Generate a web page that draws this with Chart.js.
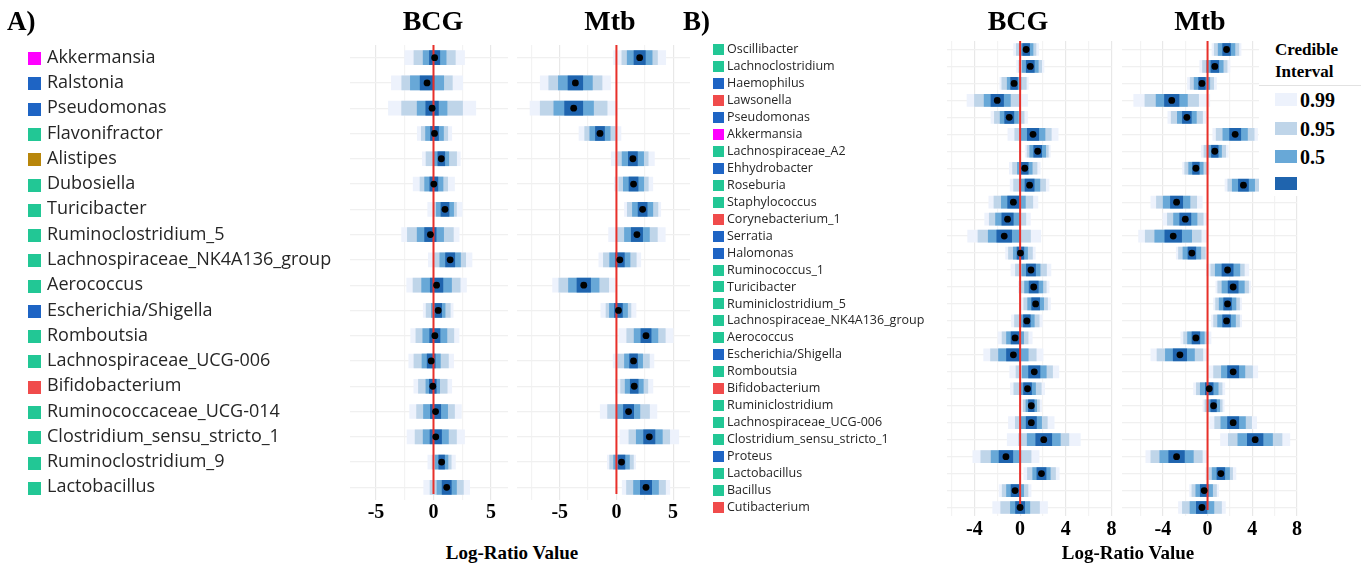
<!DOCTYPE html>
<html>
<head>
<meta charset="utf-8">
<script src="https://cdn.jsdelivr.net/npm/chart.js@4.4.1/dist/chart.umd.min.js"></script>
<style>
    body { margin: 0; background: #fff; }
    #fig { position: relative; width: 1361px; height: 565px; overflow: hidden; font-family: "Liberation Serif", "Times New Roman", serif; }
    #fig canvas { position: absolute; top: 0; }
    .txt { position: absolute; font-weight: bold; line-height: 1; white-space: nowrap; color: #000; }
    .mid { transform: translateX(-50%); }
    #ciLegend { position: absolute; left: 1259px; top: 32px; width: 102px; height: 164px; background: #fff; }
    #ciLegend .rule { position: absolute; left: 0; top: 53px; width: 102px; height: 1px; background: #e2e2e2; }
    #ciLegend .sw { position: absolute; left: 16px; width: 22px; height: 13px; }
</style>
</head>
<body>
<div id="fig">
    <canvas id="aBcg" width="512" height="540" style="left:0px"></canvas>
    <canvas id="aMtb" width="190" height="540" style="left:512px"></canvas>
    <canvas id="bBcg" width="420" height="556" style="left:700px"></canvas>
    <canvas id="bMtb" width="200" height="556" style="left:1116px"></canvas>

    <div class="txt" style="left:7px; top:8px; font-size:27px;">A)</div>
    <div class="txt" style="left:683px; top:8px; font-size:27px;">B)</div>
    <div class="txt mid" style="left:433px; top:7px; font-size:28px;">BCG</div>
    <div class="txt mid" style="left:610px; top:7px; font-size:28px;">Mtb</div>
    <div class="txt mid" style="left:1018px; top:7px; font-size:28px;">BCG</div>
    <div class="txt mid" style="left:1200px; top:7px; font-size:28px;">Mtb</div>
    <div class="txt mid" style="left:512px; top:543px; font-size:19px;">Log-Ratio Value</div>
    <div class="txt mid" style="left:1128px; top:543px; font-size:19px;">Log-Ratio Value</div>

    <div id="ciLegend"></div>
</div>

<script>
// ---- data ----
const phylumColors = {
    Firmicutes: '#22c795',
    Proteobacteria: '#1e64c4',
    Verrucomicrobia: '#ff00ff',
    Bacteroidetes: '#b8860b',
    Actinobacteria: '#f04b4b'
};

const ciLabels = ['0.99', '0.95', '0.5', ''];
const ciColors = ['#edf2fc', '#bfd5e9', '#68a8d7', '#1f64ae'];

const ticksA = [-5, 0, 5];
const ticksB = [-4, 0, 4, 8];

// panel A
const generaA = ['Akkermansia', 'Ralstonia', 'Pseudomonas', 'Flavonifractor', 'Alistipes', 'Dubosiella',
    'Turicibacter', 'Ruminoclostridium_5', 'Lachnospiraceae_NK4A136_group', 'Aerococcus', 'Escherichia/Shigella',
    'Romboutsia', 'Lachnospiraceae_UCG-006', 'Bifidobacterium', 'Ruminococcaceae_UCG-014',
    'Clostridium_sensu_stricto_1', 'Ruminoclostridium_9', 'Lactobacillus'];
const phylaA = ['Verrucomicrobia', 'Proteobacteria', 'Proteobacteria', 'Firmicutes', 'Bacteroidetes', 'Firmicutes',
    'Firmicutes', 'Firmicutes', 'Firmicutes', 'Firmicutes', 'Proteobacteria',
    'Firmicutes', 'Firmicutes', 'Actinobacteria', 'Firmicutes',
    'Firmicutes', 'Firmicutes', 'Firmicutes'];

const bcgA_median = [0.1, -0.56, -0.12, 0.09, 0.68, 0.03, 1.0, -0.27, 1.45, 0.27, 0.41, 0.12, -0.2, -0.06, 0.18, 0.2, 0.71, 1.15];
const bcgA_core = [0.45, 0.6, 0.55, 0.35, 0.3, 0.35, 0.35, 0.5, 0.4, 0.55, 0.3, 0.45, 0.35, 0.3, 0.45, 0.5, 0.25, 0.4];
const bcgA_ci50 = [1.0, 1.45, 1.3, 0.78, 0.65, 0.8, 0.75, 1.15, 0.9, 1.3, 0.6, 1.05, 0.8, 0.6, 1.05, 1.1, 0.55, 0.85];
const bcgA_ci95 = [1.8, 2.2, 2.65, 1.15, 1.33, 1.2, 1.0, 2.0, 1.35, 2.05, 1.05, 1.65, 1.5, 1.25, 1.65, 1.8, 0.83, 1.45];
const bcgA_ci99 = [2.6, 3.1, 3.8, 1.5, 1.65, 1.8, 1.5, 2.5, 1.9, 2.6, 1.3, 2.1, 1.95, 1.65, 2.25, 2.5, 1.2, 2.0];

const mtbA_median = [2.05, -3.62, -3.77, -1.45, 1.45, 1.51, 2.31, 1.81, 0.3, -2.88, 0.18, 2.61, 1.51, 1.57, 1.07, 2.9, 0.45, 2.61];
const mtbA_core = [0.5, 0.65, 0.8, 0.4, 0.4, 0.4, 0.4, 0.5, 0.4, 0.6, 0.35, 0.45, 0.35, 0.35, 0.45, 0.5, 0.3, 0.5];
const mtbA_ci50 = [1.1, 1.5, 1.75, 0.9, 0.95, 0.9, 0.9, 1.1, 0.9, 1.35, 0.8, 1.05, 0.8, 0.8, 1.0, 1.15, 0.7, 1.1];
const mtbA_ci95 = [1.57, 2.35, 2.95, 1.35, 1.35, 1.3, 1.35, 1.8, 1.45, 2.2, 1.1, 1.7, 1.4, 1.2, 1.85, 1.8, 1.05, 1.72];
const mtbA_ci99 = [2.3, 3.1, 3.85, 1.85, 1.9, 1.7, 1.6, 2.5, 1.85, 2.75, 1.55, 2.4, 1.8, 1.65, 2.5, 2.6, 1.25, 2.1];

// panel B
const generaB = ['Oscillibacter', 'Lachnoclostridium', 'Haemophilus', 'Lawsonella', 'Pseudomonas', 'Akkermansia',
    'Lachnospiraceae_A2', 'Ehhydrobacter', 'Roseburia', 'Staphylococcus', 'Corynebacterium_1', 'Serratia',
    'Halomonas', 'Ruminococcus_1', 'Turicibacter', 'Ruminiclostridium_5', 'Lachnospiraceae_NK4A136_group',
    'Aerococcus', 'Escherichia/Shigella', 'Romboutsia', 'Bifidobacterium', 'Ruminiclostridium',
    'Lachnospiraceae_UCG-006', 'Clostridium_sensu_stricto_1', 'Proteus', 'Lactobacillus', 'Bacillus', 'Cutibacterium'];
const phylaB = ['Firmicutes', 'Firmicutes', 'Proteobacteria', 'Actinobacteria', 'Proteobacteria', 'Verrucomicrobia',
    'Firmicutes', 'Proteobacteria', 'Firmicutes', 'Firmicutes', 'Actinobacteria', 'Proteobacteria',
    'Proteobacteria', 'Firmicutes', 'Firmicutes', 'Firmicutes', 'Firmicutes',
    'Firmicutes', 'Proteobacteria', 'Firmicutes', 'Actinobacteria', 'Firmicutes',
    'Firmicutes', 'Firmicutes', 'Proteobacteria', 'Firmicutes', 'Firmicutes', 'Actinobacteria'];

const bcgB_median = [0.53, 0.89, -0.53, -2.0, -0.95, 1.13, 1.54, 0.41, 0.83, -0.59, -1.1, -1.39, 0.03, 0.95,
    1.19, 1.36, 0.59, -0.44, -0.59, 1.24, 0.65, 0.98, 0.98, 2.07, -1.24, 1.87, -0.44, 0.0];
const bcgB_core = [0.3, 0.35, 0.3, 0.55, 0.4, 0.5, 0.35, 0.3, 0.4, 0.5, 0.5, 0.65, 0.3, 0.4,
    0.4, 0.35, 0.3, 0.35, 0.6, 0.5, 0.35, 0.25, 0.45, 0.7, 0.6, 0.4, 0.35, 0.4];
const bcgB_ci50 = [0.6, 0.7, 0.6, 1.15, 0.8, 1.05, 0.7, 0.65, 0.9, 1.05, 1.05, 1.4, 0.62, 0.8,
    0.8, 0.7, 0.65, 0.75, 1.3, 1.05, 0.7, 0.47, 0.9, 1.45, 1.3, 0.77, 0.75, 0.85];
const bcgB_ci95 = [0.86, 1.0, 1.07, 2.0, 1.3, 1.6, 0.93, 1.07, 1.4, 1.7, 1.6, 2.3, 1.05, 1.36,
    1.1, 1.04, 1.08, 1.14, 2.0, 1.6, 1.2, 0.71, 1.4, 2.2, 2.2, 1.23, 1.13, 1.7];
const bcgB_ci99 = [1.1, 1.2, 1.25, 2.65, 1.6, 2.2, 1.1, 1.35, 1.7, 2.15, 2.0, 3.2, 1.3, 1.75,
    1.35, 1.3, 1.35, 1.5, 2.6, 2.15, 1.5, 0.9, 2.0, 3.2, 2.9, 1.55, 1.4, 2.4];

const mtbB_median = [1.7, 0.65, -0.5, -3.2, -1.85, 2.47, 0.65, -1.04, 3.21, -2.77, -1.99, -3.07, -1.4, 1.79,
    2.29, 1.79, 1.7, -1.04, -2.47, 2.29, 0.15, 0.54, 2.29, 4.26, -2.77, 1.19, -0.3, -0.5];
const mtbB_core = [0.35, 0.35, 0.3, 0.65, 0.4, 0.5, 0.3, 0.3, 0.45, 0.55, 0.5, 0.75, 0.35, 0.5,
    0.45, 0.35, 0.35, 0.35, 0.6, 0.5, 0.35, 0.25, 0.5, 0.7, 0.7, 0.35, 0.35, 0.5];
const mtbB_ci50 = [0.75, 0.75, 0.7, 1.4, 0.85, 1.1, 0.6, 0.65, 1.0, 1.2, 1.05, 1.65, 0.8, 1.1,
    1.0, 0.75, 0.8, 0.75, 1.3, 1.05, 0.8, 0.55, 1.1, 1.55, 1.5, 0.78, 0.75, 1.07];
const mtbB_ci95 = [1.1, 1.1, 1.05, 2.4, 1.4, 1.7, 0.97, 1.0, 1.4, 1.8, 1.6, 2.5, 1.2, 1.5,
    1.38, 1.07, 1.16, 1.1, 2.05, 1.75, 1.15, 0.77, 1.65, 2.4, 2.3, 1.05, 1.1, 1.75];
const mtbB_ci99 = [1.3, 1.35, 1.3, 3.4, 1.7, 2.0, 1.2, 1.2, 1.65, 2.3, 2.0, 3.1, 1.4, 1.9,
    1.55, 1.25, 1.35, 1.35, 2.6, 2.2, 1.4, 0.95, 2.1, 3.1, 2.75, 1.35, 1.3, 2.1];

// ---- plugins ----
// red reference line at 0, drawn above the bars but under the median dots
const zeroLine = {
    id: 'zeroLine',
    afterDatasetDraw(chart, args) {
        if (args.index !== 1) return;
        const { ctx, chartArea } = chart;
        const x = chart.scales.x.getPixelForValue(0);
        ctx.save();
        ctx.strokeStyle = '#e8302a';
        ctx.lineWidth = 2;
        ctx.beginPath();
        ctx.moveTo(x, chartArea.top);
        ctx.lineTo(x, chartArea.bottom - 6);
        ctx.stroke();
        ctx.restore();
    }
};

// coloured phylum squares in front of the genus labels
const phylumSquares = {
    id: 'phylumSquares',
    afterDraw(chart, args, opts) {
        if (!opts.phyla) return;
        const scale = chart.scales.y;
        const ctx = chart.ctx;
        ctx.save();
        scale.ticks.forEach((t, i) => {
            const y = scale.getPixelForTick(i);
            ctx.fillStyle = phylumColors[opts.phyla[i]];
            ctx.fillRect(opts.x, Math.round(y - opts.size / 2) + opts.dy, opts.size, opts.size);
        });
        ctx.restore();
    }
};

function buildPanel(id, cfg) {
    const ctx = document.getElementById(id).getContext('2d');
    const span = (w) => cfg.median.map((m, i) => [m - w[i], m + w[i]]);
    const bar = (label, w, color, order) => ({
        type: 'bar',
        label: label,
        data: span(w),
        backgroundColor: color,
        borderWidth: 0,
        barThickness: cfg.barThickness,
        grouped: false,
        order: order
    });
    const isMajor = (v) => cfg.ticks.some(t => Math.abs(t - v) < 1e-6);

    return new Chart(ctx, {
        type: 'bar',
        data: {
            labels: cfg.labels,
            datasets: [
                {
                    type: 'line',
                    label: 'median',
                    indexAxis: 'y',
                    data: cfg.median,
                    showLine: false,
                    pointRadius: 3.4,
                    pointBorderWidth: 0,
                    pointBackgroundColor: '#000',
                    order: 0
                },
                bar('core', cfg.core, ciColors[3], 1),
                bar('0.5', cfg.ci50, ciColors[2], 2),
                bar('0.95', cfg.ci95, ciColors[1], 3),
                bar('0.99', cfg.ci99, ciColors[0], 4)
            ]
        },
        options: {
            indexAxis: 'y',
            responsive: false,
            devicePixelRatio: 1,
            animation: false,
            events: [],
            layout: { padding: cfg.padding },
            plugins: {
                legend: { display: false },
                tooltip: { enabled: false },
                phylumSquares: cfg.squares || {}
            },
            scales: {
                x: {
                    type: 'linear',
                    min: cfg.min,
                    max: cfg.max,
                    border: { display: false },
                    grid: {
                        drawTicks: false,
                        lineWidth: 1.2,
                        color: (c) => (c.tick && isMajor(c.tick.value)) ? '#e8e8e8' : '#f3f3f3'
                    },
                    ticks: {
                        stepSize: cfg.step,
                        includeBounds: false,
                        autoSkip: false,
                        maxRotation: 0,
                        padding: cfg.tickPad,
                        color: '#000',
                        font: { family: 'Liberation Serif', size: 20, weight: 'bold' },
                        callback: (v) => isMajor(v) ? String(v) : ''
                    },
                    afterFit: (s) => { s.height = cfg.xAxisHeight; }
                },
                y: {
                    type: 'category',
                    offset: true,
                    border: { display: false },
                    grid: { offset: false, drawTicks: false, color: '#f0f0f0', lineWidth: 1.2 },
                    ticks: {
                        display: !!cfg.labelFont,
                        autoSkip: false,
                        crossAlign: 'far',
                        padding: 0,
                        color: '#262626',
                        font: cfg.labelFont || { size: 12 }
                    },
                    afterFit: (s) => { s.width = cfg.yAxisWidth; }
                }
            }
        },
        plugins: [zeroLine, phylumSquares]
    });
}

function drawAll() {
    buildPanel('aBcg', {
        labels: generaA, median: bcgA_median, core: bcgA_core, ci50: bcgA_ci50, ci95: bcgA_ci95, ci99: bcgA_ci99,
        min: -7.26, max: 6.48, step: 2.5, ticks: ticksA, tickPad: 1,
        padding: { left: 47, right: 4, top: 45, bottom: 0 }, yAxisWidth: 303, xAxisHeight: 40,
        barThickness: 14,
        labelFont: { family: 'Open Sans', size: 18 },
        squares: { phyla: phylaA, x: 28, size: 13, dy: 1 }
    });
    buildPanel('aMtb', {
        labels: generaA, median: mtbA_median, core: mtbA_core, ci50: mtbA_ci50, ci95: mtbA_ci95, ci99: mtbA_ci99,
        min: -8.77, max: 6.49, step: 2.5, ticks: ticksA, tickPad: 1,
        padding: { left: 5, right: 12, top: 45, bottom: 0 }, yAxisWidth: 0, xAxisHeight: 40,
        barThickness: 14
    });
    buildPanel('bBcg', {
        labels: generaB, median: bcgB_median, core: bcgB_core, ci50: bcgB_ci50, ci95: bcgB_ci95, ci99: bcgB_ci99,
        min: -6.4, max: 8, step: 2, ticks: ticksB, tickPad: 2,
        padding: { left: 27, right: 8.5, top: 41, bottom: 0 }, yAxisWidth: 220, xAxisHeight: 40,
        barThickness: 12,
        labelFont: { family: 'Open Sans', size: 12.5 },
        squares: { phyla: phylaB, x: 13, size: 11, dy: 0 }
    });
    buildPanel('bMtb', {
        labels: generaB, median: mtbB_median, core: mtbB_core, ci50: mtbB_ci50, ci95: mtbB_ci95, ci99: mtbB_ci99,
        min: -7.65, max: 8, step: 2, ticks: ticksB, tickPad: 2,
        padding: { left: 6, right: 19, top: 41, bottom: 0 }, yAxisWidth: 0, xAxisHeight: 40,
        barThickness: 12
    });

    // credible interval key (sits over the Mtb panel like in the figure)
    const box = document.getElementById('ciLegend');
    let html = '<div class="txt" style="left:16px; top:9px; font-size:17px;">Credible</div>' +
        '<div class="txt" style="left:16px; top:31px; font-size:17px;">Interval</div>' +
        '<div class="rule"></div>';
    const swTop = [61, 90, 118, 145];
    ciLabels.forEach((lab, i) => {
        html += `<div class="sw" style="top:${swTop[i]}px; background:${ciColors[i]}"></div>`;
        if (lab) html += `<div class="txt" style="left:41px; top:${swTop[i] - 3.5}px; font-size:20px;">${lab}</div>`;
    });
    box.innerHTML = html;
}

Promise.all([
    document.fonts.load('18px "Open Sans"'),
    document.fonts.load('bold 20px "Liberation Serif"')
]).then(drawAll, drawAll);
</script>
</body>
</html>
